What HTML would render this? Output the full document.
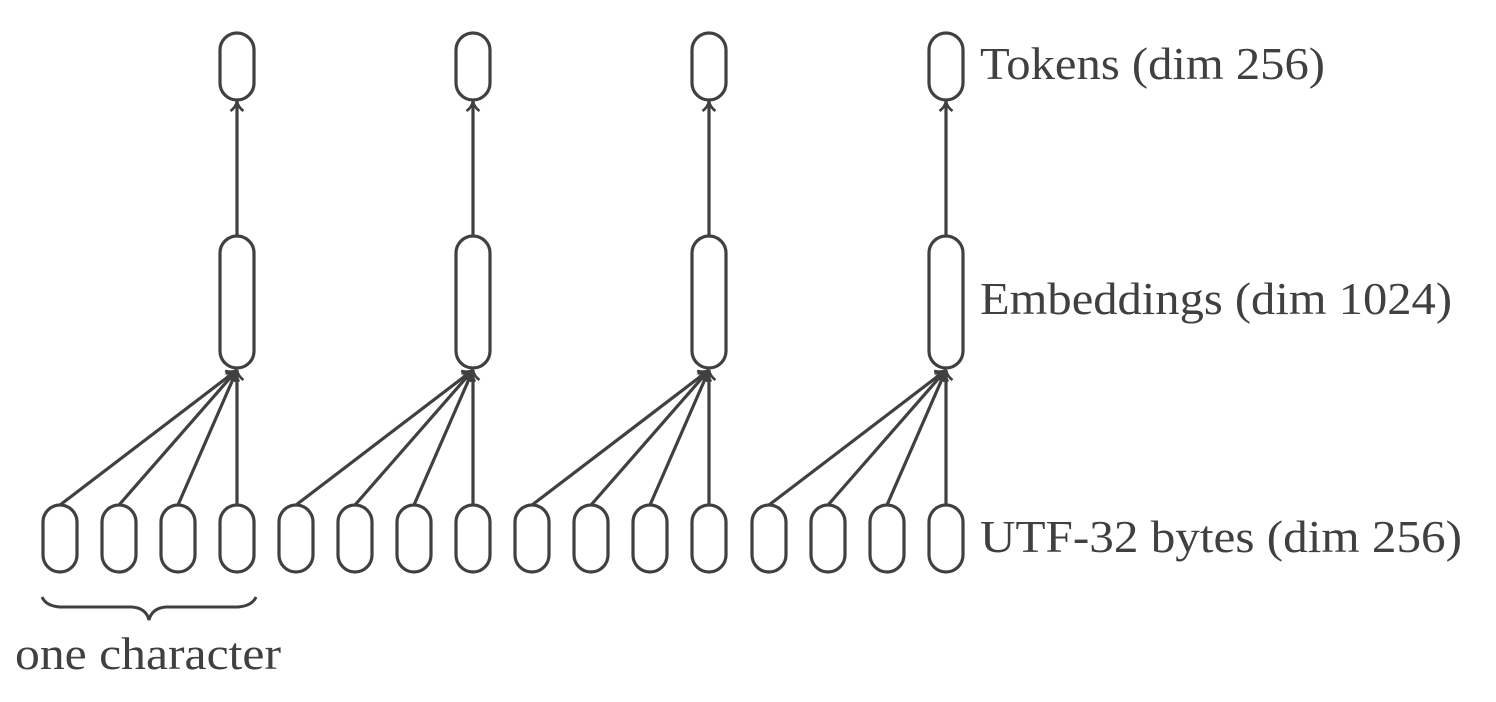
<!DOCTYPE html>
<html><head><meta charset="utf-8"><style>html,body{margin:0;padding:0;background:#fff}svg{display:block}</style></head>
<body>
<svg width="1496" height="702" viewBox="0 0 1496 702" xmlns="http://www.w3.org/2000/svg">
<defs>
<marker id="a" markerWidth="16" markerHeight="16" refX="13" refY="8" orient="auto" markerUnits="userSpaceOnUse">
<path d="M3,1.5 Q7,7 13,8 Q7,9 3,14.5" fill="none" stroke="#404040" stroke-width="2.6"/>
</marker>
</defs>
<g fill="none" stroke="#404040" stroke-width="3.2">
<rect x="220" y="33" width="34" height="67" rx="17"/>
<rect x="456" y="33" width="34" height="67" rx="17"/>
<rect x="692" y="33" width="34" height="67" rx="17"/>
<rect x="929" y="33" width="34" height="67" rx="17"/>
<rect x="220" y="236" width="34" height="132" rx="17"/>
<rect x="456" y="236" width="34" height="132" rx="17"/>
<rect x="692" y="236" width="34" height="132" rx="17"/>
<rect x="929" y="236" width="34" height="132" rx="17"/>
<line x1="237" y1="236" x2="237" y2="101" marker-end="url(#a)"/>
<line x1="473" y1="236" x2="473" y2="101" marker-end="url(#a)"/>
<line x1="709" y1="236" x2="709" y2="101" marker-end="url(#a)"/>
<line x1="946" y1="236" x2="946" y2="101" marker-end="url(#a)"/>
<rect x="43" y="505" width="34" height="67" rx="17"/>
<rect x="102" y="505" width="34" height="67" rx="17"/>
<rect x="161" y="505" width="34" height="67" rx="17"/>
<rect x="220" y="505" width="34" height="67" rx="17"/>
<rect x="279" y="505" width="34" height="67" rx="17"/>
<rect x="338" y="505" width="34" height="67" rx="17"/>
<rect x="397" y="505" width="34" height="67" rx="17"/>
<rect x="456" y="505" width="34" height="67" rx="17"/>
<rect x="515" y="505" width="34" height="67" rx="17"/>
<rect x="574" y="505" width="34" height="67" rx="17"/>
<rect x="633" y="505" width="34" height="67" rx="17"/>
<rect x="692" y="505" width="34" height="67" rx="17"/>
<rect x="752" y="505" width="34" height="67" rx="17"/>
<rect x="811" y="505" width="34" height="67" rx="17"/>
<rect x="870" y="505" width="34" height="67" rx="17"/>
<rect x="929" y="505" width="34" height="67" rx="17"/>
<line x1="60" y1="505" x2="237" y2="370" marker-end="url(#a)"/>
<line x1="119" y1="505" x2="237" y2="370" marker-end="url(#a)"/>
<line x1="178" y1="505" x2="237" y2="370" marker-end="url(#a)"/>
<line x1="237" y1="505" x2="237" y2="370" marker-end="url(#a)"/>
<line x1="296" y1="505" x2="473" y2="370" marker-end="url(#a)"/>
<line x1="355" y1="505" x2="473" y2="370" marker-end="url(#a)"/>
<line x1="414" y1="505" x2="473" y2="370" marker-end="url(#a)"/>
<line x1="473" y1="505" x2="473" y2="370" marker-end="url(#a)"/>
<line x1="532" y1="505" x2="709" y2="370" marker-end="url(#a)"/>
<line x1="591" y1="505" x2="709" y2="370" marker-end="url(#a)"/>
<line x1="650" y1="505" x2="709" y2="370" marker-end="url(#a)"/>
<line x1="709" y1="505" x2="709" y2="370" marker-end="url(#a)"/>
<line x1="769" y1="505" x2="946" y2="370" marker-end="url(#a)"/>
<line x1="828" y1="505" x2="946" y2="370" marker-end="url(#a)"/>
<line x1="887" y1="505" x2="946" y2="370" marker-end="url(#a)"/>
<line x1="946" y1="505" x2="946" y2="370" marker-end="url(#a)"/>
<path d="M42,597 Q46,606 60,607 L132,607 Q146,608 149,620 Q152,608 166,607 L238,607 Q252,606 256,597" stroke-width="3"/>
</g>
<g fill="#404040" font-family="Liberation Serif, serif" font-size="46">
<text x="980" y="79" textLength="345" lengthAdjust="spacingAndGlyphs">Tokens (dim 256)</text>
<text x="980" y="314" textLength="472" lengthAdjust="spacingAndGlyphs">Embeddings (dim 1024)</text>
<text x="980" y="552" textLength="482" lengthAdjust="spacingAndGlyphs">UTF-32 bytes (dim 256)</text>
<text x="15" y="669" textLength="266" lengthAdjust="spacingAndGlyphs">one character</text>
</g>
</svg>
</body></html>
